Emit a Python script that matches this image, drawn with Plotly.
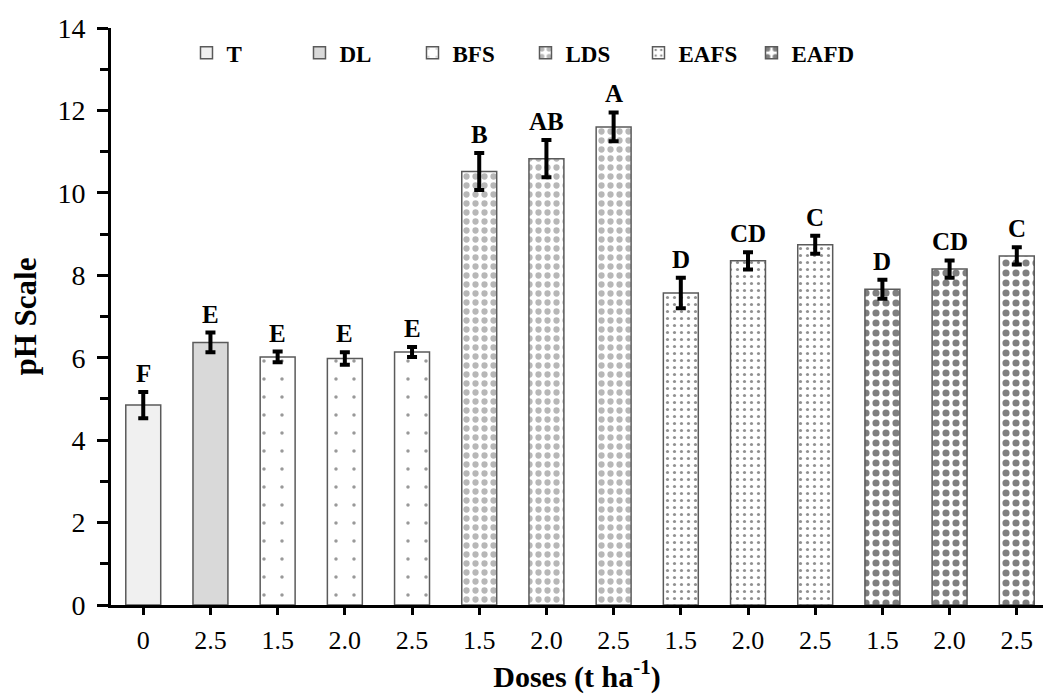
import plotly.graph_objects as go

# ---- data ----
groups = ["T", "DL", "BFS", "LDS", "EAFS", "EAFD"]
group_doses = [["0"], ["2.5"], ["1.5", "2.0", "2.5"], ["1.5", "2.0", "2.5"],
               ["1.5", "2.0", "2.5"], ["1.5", "2.0", "2.5"]]
group_ph = [[4.85], [6.37], [6.02, 5.98, 6.14], [10.52, 10.83, 11.60],
            [7.57, 8.35, 8.74], [7.66, 8.15, 8.47]]
group_err = [[0.32], [0.24], [0.13, 0.15, 0.12], [0.45, 0.45, 0.35],
             [0.37, 0.21, 0.22], [0.23, 0.21, 0.21]]
group_letters = [["F"], ["E"], ["E", "E", "E"], ["B", "AB", "A"],
                 ["D", "CD", "C"], ["D", "CD", "C"]]

# ---- styles ----
styles = {
    "T": dict(color="#f0f0f0"),
    "DL": dict(color="#d9d9d9"),
    "BFS": dict(color="white", pattern=dict(shape=".", size=18, solidity=0.03,
                                             fgcolor="#333333", bgcolor="white", fillmode="overlay")),
    "LDS": dict(color="white", pattern=dict(shape=".", size=9, solidity=0.38,
                                             fgcolor="#707070", bgcolor="white", fillmode="overlay")),
    "EAFS": dict(color="white", pattern=dict(shape=".", size=7, solidity=0.16,
                                              fgcolor="#222222", bgcolor="white", fillmode="overlay")),
    "EAFD": dict(color="white", pattern=dict(shape=".", size=10, solidity=0.4,
                                              fgcolor="#000000", bgcolor="white", fillmode="overlay")),
}

FONT = "Liberation Serif"

fig = go.Figure()
tickvals, ticktext = [], []
annotations = []
pos = 0
for g, doses, vals, errs, lets in zip(groups, group_doses, group_ph, group_err, group_letters):
    xs = list(range(pos, pos + len(vals)))
    pos += len(vals)
    tickvals += xs
    ticktext += doses
    fig.add_trace(go.Bar(
        x=xs, y=vals, name=g, width=0.52,
        marker=dict(line=dict(color="#5a5a5a", width=1.5), **styles[g]),
        error_y=dict(type="data", array=errs, visible=True, color="black",
                     thickness=4, width=5),
    ))
    for x, v, e, l in zip(xs, vals, errs, lets):
        annotations.append(dict(x=x, y=v + e, text="<b>%s</b>" % l, showarrow=False,
                                xanchor="center", yanchor="bottom", yshift=3,
                                font=dict(family=FONT, size=25, color="black")))

fig.update_layout(
    width=1043, height=700,
    margin=dict(l=111, r=0, t=28, b=95, autoexpand=False),
    paper_bgcolor="white", plot_bgcolor="white",
    font=dict(family=FONT, color="black"),
    bargap=0.48,
    showlegend=True,
    legend=dict(orientation="h", x=0.081, y=0.957, xanchor="left", yanchor="middle",
                font=dict(family=FONT, size=23, color="black", weight="bold"),
                entrywidth=68, entrywidthmode="pixels", itemwidth=30,
                bgcolor="rgba(0,0,0,0)", tracegroupgap=0),
    annotations=annotations,
)
fig.update_xaxes(
    range=[-0.48, 13.39], tickmode="array", tickvals=tickvals, ticktext=ticktext,
    showline=True, linecolor="black", linewidth=3, automargin=False,
    ticks="outside", ticklen=7, tickwidth=3, tickcolor="black",
    tickfont=dict(family=FONT, size=26, color="black"), ticklabelstandoff=3,
    showgrid=False, zeroline=False,
    title=dict(text="<b>Doses (t ha<sup>-1</sup>)</b>", font=dict(family=FONT, size=30, color="black"),
               standoff=10),
)
fig.update_yaxes(
    range=[0, 14], dtick=2, tick0=0, automargin=False,
    showline=True, linecolor="black", linewidth=3,
    ticks="outside", ticklen=11, tickwidth=3, tickcolor="black",
    minor=dict(dtick=1, ticks="outside", ticklen=8, tickwidth=3, tickcolor="black"),
    tickfont=dict(family=FONT, size=28, color="black"), ticklabelstandoff=6,
    showgrid=False, zeroline=False,
    title=dict(text="<b>pH Scale</b>", font=dict(family=FONT, size=31, color="black"),
               standoff=12),
)

fig.write_html("out.html", config={"displayModeBar": False},
               post_script="document.body.style.margin='0px';document.body.style.overflow='hidden';")
